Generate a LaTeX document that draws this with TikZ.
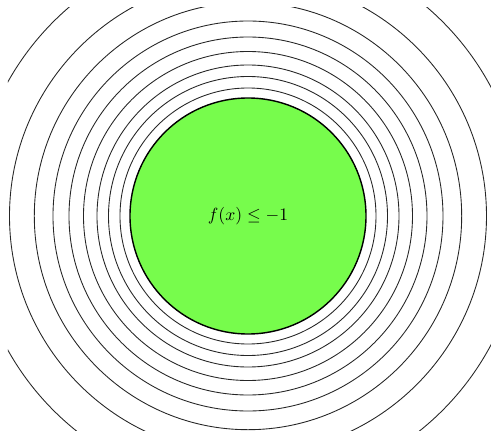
\documentclass[tikz,border=0pt]{standalone}
\usepackage{tikz}
\usetikzlibrary{positioning}
\definecolor{levelgreen}{RGB}{119,252,76}

\begin{document}
\begin{tikzpicture}[
    x=0.2mm, y=0.2mm,
    contour/.style={draw=black!85, line width=0.5pt},
    region/.style={circle, draw=black, line width=0.8pt, fill=levelgreen, minimum size=47.2mm, inner sep=0pt}
]
    \useasboundingbox (-248,-216) rectangle (243,216);
    \begin{scope}
        \clip (-240,-214) rectangle (243,208.3);
        \foreach \r in {128,139.5,151,164.5,179,195,213.7,238.5,275}
            \draw[contour] (0,0) circle[radius=\r*0.2mm];
    \end{scope}
    \node[region] (sublevel) at (0,0) {$f(x) \leq -1$};
\end{tikzpicture}
\end{document}
